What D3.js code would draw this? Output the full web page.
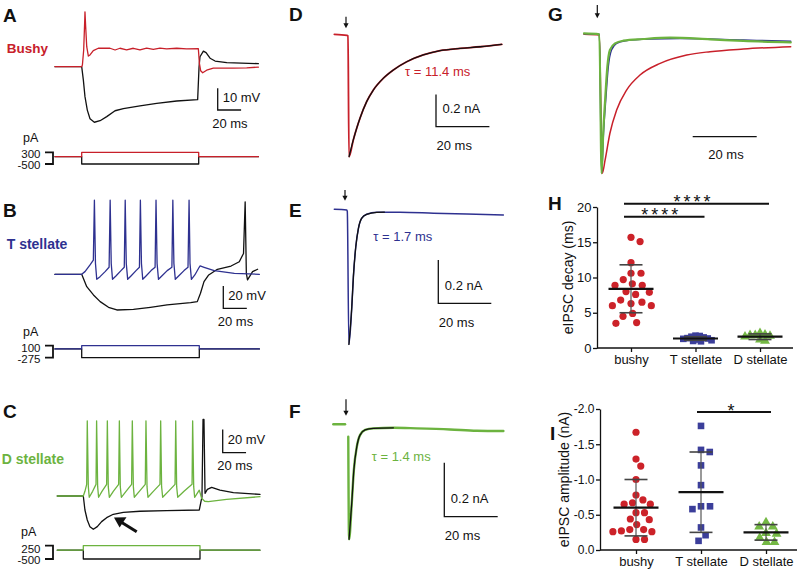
<!DOCTYPE html>
<html><head><meta charset="utf-8">
<script src="https://cdn.jsdelivr.net/npm/d3@7"></script>
<style>
body{margin:0;background:#fff}
svg{display:block;font-family:"Liberation Sans",Arial,Helvetica,sans-serif}
</style>
</head><body>
<svg id="fig" width="800" height="572"></svg>
<script>
// ===================== DATA =====================
// Panel A (Bushy) current clamp: [time ms, Vm change mV]
const aDepol = [[-22.8,0],[0,0],[0.6,0.8],[1.7,7.7],[2.6,21.5],[2.8,25.3],[3.4,18.4],[4.3,9.2],[5.7,4.9],[7.1,5.4],[9.9,7.4],[14.2,8.5],[24.2,8.5],[28.5,7.7],[32.7,8.5],[38.4,7.8],[44.1,8.5],[49.8,7.7],[55.5,8.6],[61.2,8.0],[66.9,8.6],[72.6,8.2],[81.2,8.5],[89.7,8.2],[99.7,8.3],[100.6,1.5],[101.7,-1.9],[103.4,-2.8],[106.8,-1.6],[112.5,-0.7],[129.6,-0.7],[141,-0.5],[151,-0.2]];
const aHyper = [[-22.8,0],[0,0],[1.4,-6.1],[2.8,-13.8],[4.8,-20],[7.1,-24],[10.8,-25.6],[15.7,-24.9],[21.4,-23],[28.5,-20.3],[35.6,-19.3],[49.8,-18.1],[64.1,-16.9],[81.2,-15.8],[99.1,-15.2],[100.3,0],[101.1,4.6],[104,7.2],[106.3,6.5],[109.7,3.9],[114,2.6],[124,1.9],[151,1.4]];
const aStim = [300, -500];   // pA

// Panel B (T stellate)
const bSpiking = [[-22.8,0],[0,0],[2.8,2.4],[7.1,8.4],[9.9,12.8],[10.8,66.5],[11.7,9.8],[12.8,-4.5],[15.6,-2.1],[19.9,2.4],[23.3,6.3],[24.2,66.5],[25.1,9.8],[26.2,-4.5],[29.1,-1.5],[33.4,3.3],[36.2,6.3],[37,66.5],[37.9,9.8],[39.1,-4.5],[41.9,-1.5],[46.2,3.3],[49.1,6.3],[49.9,66.5],[50.8,9.8],[51.9,-4.5],[54.7,-1.5],[59,3.3],[62.4,6.3],[63.2,66.5],[64.1,9.8],[65.3,-4.5],[68.1,-1.5],[72.7,3.3],[76.7,6.3],[77.5,66.5],[78.4,9.8],[79.6,-4.5],[82.4,-1.5],[87,3.3],[90.4,6.3],[91.3,66.5],[92.1,9.8],[93.3,-4.5],[96.2,-0.6],[99.9,6.3],[100.7,7.5],[104.1,6.3],[112.7,3.3],[129.8,0.9],[151.1,0]];
const bHyper = [[-22.8,0],[0,0],[4.3,-11.1],[10,-18.5],[15.7,-24.5],[22.8,-29.6],[29.9,-32],[44,-31.4],[58.4,-29.6],[72.6,-27.5],[92.6,-25.4],[98.3,-24.5],[101,-17],[104,-6.6],[108,-0.6],[115.4,4.5],[127,7.4],[134,11.3],[137.6,18.7],[139,65],[140,0.9],[141,-5],[145.3,2.4],[149.6,4.5]];
const bStim = [100, -275];

// Panel C (D stellate)
const cSpiking = [[-22.3,0],[0,0],[1.4,4],[2.9,10],[3.4,64.5],[4.3,8],[5.1,-1.1],[8,4],[10.9,10],[11.4,64.5],[12.3,8],[13.1,-1.1],[16,4],[20,10],[20.6,64.5],[21.4,8],[22.3,-1.1],[25.7,4],[30.3,10],[30.9,64.5],[31.7,8],[32.6,-1.1],[36.6,4],[41.4,10],[42,64.5],[42.9,8],[43.7,-1.1],[48,4],[53.1,10],[53.7,64.5],[54.6,8],[55.4,-1.1],[60,4],[65.7,10],[66.3,64.5],[67.1,8],[68,-1.1],[72.9,4],[78.6,10],[79.2,64.5],[80,8],[80.9,-1.1],[86.3,4],[93.2,10],[93.7,64.5],[94.6,8],[95.4,-1.1],[99.4,5],[101.4,-2],[104,-4.5],[107.1,-4.9],[122.8,-2.9],[151.4,-0.6]];
const cHyper = [[-22.3,0],[0,0],[1.4,-12],[3.4,-20.6],[5.7,-26.3],[8.6,-28.6],[12,-26.3],[15.7,-22],[20,-18.6],[25.7,-15.7],[34.3,-14],[48.6,-13.1],[71.4,-12.6],[99.4,-12],[101.7,-0.6],[102.6,65.7],[103.4,65.7],[104.3,2.3],[106.3,5.7],[110,7.4],[117.1,5.1],[128.6,2.9],[151.4,1.4]];
const cStim = [250, -500];

// Panel D-F eIPSCs: [time ms from stimulus, current nA]
const dTrace = [[-5,0],[-0.3,-0.007],[0.1,-0.01],[0.49,-0.758],[2.1,-0.654],[3.37,-0.582],[4.6,-0.520],[7.1,-0.417],[9.6,-0.345],[13.3,-0.273],[17.1,-0.221],[22.1,-0.170],[28.3,-0.128],[34.6,-0.101],[42.1,-0.087],[49.6,-0.077],[57.7,-0.062]];
const dFit = [[0.49,-0.758],[2.1,-0.654],[3.37,-0.582],[4.6,-0.520],[7.1,-0.417],[9.6,-0.345],[13.3,-0.273],[17.1,-0.221],[22.1,-0.170],[28.3,-0.128],[34.6,-0.101],[42.1,-0.087],[49.6,-0.077],[57.7,-0.062]];
const eTrace = [[-4.9,0],[-0.2,-0.003],[0.0,-0.01],[0.6,-0.624],[1.7,-0.450],[2.3,-0.311],[3.2,-0.173],[4.2,-0.088],[5.4,-0.042],[7.3,-0.023],[11.1,-0.014],[19.9,-0.014],[32.5,-0.018],[45.1,-0.022],[58.9,-0.026]];
const eFit = [[0.6,-0.624],[1.7,-0.450],[2.3,-0.311],[3.2,-0.173],[4.2,-0.088],[5.4,-0.042],[7.3,-0.023],[11.1,-0.014],[14,-0.013]];
const fBaseline = [[-5.5,0],[-1.1,0]];
const fTrace = [[0.1,-0.046],[0.4,-0.426],[1.4,-0.293],[2.2,-0.169],[3.3,-0.083],[4.5,-0.040],[6.4,-0.021],[9.5,-0.015],[17,-0.013],[25.7,-0.015],[38.2,-0.019],[48.2,-0.024],[58.2,-0.025]];
const fFit = [[0.4,-0.426],[1.4,-0.293],[2.2,-0.169],[3.3,-0.083],[4.5,-0.040],[6.4,-0.021],[9.5,-0.015],[17,-0.013]];
const tauLabels = ["τ = 11.4 ms", "τ = 1.7 ms", "τ = 1.4 ms"];

// Panel G normalized eIPSCs
const gBushy = [[-5,0],[-0.2,-0.005],[0.7,-1],[1.6,-0.904],[3.1,-0.712],[5.2,-0.545],[8.3,-0.401],[12.5,-0.293],[18.8,-0.209],[27.1,-0.149],[34.4,-0.125],[44.8,-0.106],[59.6,-0.089]];
const gTstel = [[-5,0.004],[-0.2,0],[0.5,-1],[1.1,-0.712],[1.8,-0.473],[2.6,-0.233],[3.6,-0.113],[5.2,-0.065],[8,-0.046],[15.6,-0.034],[25,-0.030],[44.8,-0.041],[59.6,-0.050]];
const gDstel = [[-5,0.006],[-0.2,0],[0.5,-1],[1.0,-0.712],[1.6,-0.473],[2.3,-0.233],[3.1,-0.113],[4.7,-0.065],[7.3,-0.046],[13.5,-0.034],[21.9,-0.024],[34.4,-0.036],[44.8,-0.048],[59.6,-0.058]];

// Panels H and I
const categories = ["bushy", "T stellate", "D stellate"];
const decayBushy = [15.7,15.1,12.1,10.6,10.6,9.7,9.1,8.9,8.9,8.0,7.9,7.6,6.8,6.5,6.3,6.0,6.0,4.9,4.5,3.6,3.5];
const decayT = [1.75,1.7,1.6,1.5,1.4,1.35,1.3,1.2,1.1,1.0,0.95];
const decayD = [2.1,1.9,1.8,1.8,1.7,1.6,1.2,1.0];
const decayMean = [8.4, 1.35, 1.6];
const decaySD = [3.4, 0.25, 0.4];
const decayTicks = [0, 5, 10, 15, 20];
const ampBushy = [-1.67,-1.29,-1.19,-1.00,-0.78,-0.71,-0.67,-0.65,-0.65,-0.53,-0.53,-0.44,-0.43,-0.36,-0.29,-0.29,-0.27,-0.26,-0.26,-0.15,-0.15];
const ampT = [-1.76,-1.42,-1.39,-1.20,-0.92,-0.62,-0.62,-0.58,-0.32,-0.21,-0.13];
const ampD = [-0.39,-0.33,-0.33,-0.24,-0.23,-0.17,-0.11,-0.11];
const ampMean = [-0.60, -0.82, -0.25];
const ampSD = [0.40, 0.57, 0.11];
const ampTicks = [0, -0.5, -1.0, -1.5, -2.0];
const decaySig = [["bushy","D stellate","****"],["bushy","T stellate","****"]];
const ampSig = [["T stellate","D stellate","*"]];

// ===================== DRAWING =====================
const RED = "#c8202a", BLUE = "#2e3190", GREEN = "#6cb33f", INK = "#111";
const MRED = "#cc2229", MBLUE = "#3b3e9a", MGREEN = "#74b844";
const svg = d3.select("#fig");

function txt(x, y, s, o = {}) {
  const t = svg.append("text").attr("x", x).attr("y", y).text(s)
    .attr("font-size", o.size || 13).attr("fill", o.fill || INK)
    .attr("font-weight", o.weight || "normal").attr("text-anchor", o.anchor || "start");
  if (o.ls) t.attr("letter-spacing", o.ls);
  return t;
}
function trace(data, x, y, color, w, curve) {
  return svg.append("path").datum(data).attr("fill", "none").attr("stroke", color)
    .attr("stroke-width", w).attr("stroke-linejoin", "round").attr("stroke-linecap", "round")
    .attr("d", d3.line().x(d => x(d[0])).y(d => y(d[1])).curve(curve || d3.curveMonotoneX));
}
function seg(x1, y1, x2, y2, color, w) {
  svg.append("line").attr("x1", x1).attr("y1", y1).attr("x2", x2).attr("y2", y2)
    .attr("stroke", color || INK).attr("stroke-width", w || 1.3);
}
function stimArrow(x, y1, y2) {
  seg(x, y1, x, y2 - 4, INK, 1.2);
  svg.append("path").attr("d", `M${x-2.6},${y2-5}L${x+2.6},${y2-5}L${x},${y2}Z`).attr("fill", INK);
}
function scaleBar(x0, y0, hLen, vLen) {
  svg.append("path").attr("fill", "none").attr("stroke", INK).attr("stroke-width", 1.3)
    .attr("d", vLen > 0 ? `M${x0},${y0 - vLen}V${y0}H${x0 + hLen}` : `M${x0},${y0}H${x0 + hLen}`);
}
function panelLetter(x, y, s) { txt(x, y, s, { size: 19, weight: "bold" }); }

// ---- current-clamp panels ----
function ccPanel(cfg) {
  const x = d3.scaleLinear().domain([0, 100]).range(cfg.xr);
  const y = d3.scaleLinear().domain([0, -cfg.vBar]).range([cfg.base, cfg.base + cfg.vPx]);
  trace(cfg.hyper, x, y, INK, 1.3, d3.curveLinear);
  trace(cfg.spk, x, y, cfg.color, 1.3, d3.curveLinear);
  const hLen = x(20) - x(0), vLen = y(0) - y(cfg.vBar);
  scaleBar(cfg.sb[0], cfg.sb[1], hLen, vLen);
  txt(cfg.sb[0] + 5, cfg.sb[1] - 8.5, cfg.vBar + " mV", { size: 13 });
  txt(cfg.sb[0] - 5.5, cfg.sb[1] + 17.5, "20 ms", { size: 13 });
  const t0 = cfg.spk[0][0], t1 = cfg.spk[cfg.spk.length - 1][0];
  const ys = d3.scaleLinear().domain([cfg.stim[1], cfg.stim[0]]).range(cfg.stimR);
  const step = a => [[t0, 0], [0, 0], [0, a], [100, a], [100, 0], [t1, 0]];
  trace(step(cfg.stim[1]), x, ys, INK, 1.3, d3.curveLinear);
  trace(step(cfg.stim[0]), x, ys, cfg.color, 1.3, d3.curveLinear);
  svg.append("path").attr("fill", "none").attr("stroke", INK).attr("stroke-width", 1.8)
    .attr("d", `M45,${ys(cfg.stim[0])}H53V${ys(cfg.stim[1])}H45`);
  txt(cfg.pA[0], cfg.pA[1], "pA", { size: 12.5 });
  const mid = (ys(cfg.stim[0]) + ys(cfg.stim[1])) / 2;
  txt(40.5, mid + 0.2, String(cfg.stim[0]), { size: 11.5, anchor: "end" });
  txt(40.5, mid + 11.3, String(cfg.stim[1]), { size: 11.5, anchor: "end" });
  txt(cfg.name[1], cfg.name[2], cfg.name[0], { size: cfg.name[3], weight: "bold", fill: cfg.color });
  return { x, y };
}

ccPanel({ xr: [81.7, 198.7], base: 66.7, vBar: 10, vPx: 21.7, hyper: aHyper, spk: aDepol, color: RED,
  sb: [217.7, 110], stim: aStim, stimR: [164, 152.3], pA: [23, 142], name: ["Bushy", 6.7, 52.8, 13.5] });
ccPanel({ xr: [81.7, 199.3], base: 274.3, vBar: 20, vPx: 22.3, hyper: bHyper, spk: bSpiking, color: BLUE,
  sb: [223.3, 308.3], stim: bStim, stimR: [357.7, 345.7], pA: [23, 336], name: ["T stellate", 6.7, 249.3, 14] });
ccPanel({ xr: [83.3, 200], base: 496, vBar: 20, vPx: 23.3, hyper: cHyper, spk: cSpiking, color: GREEN,
  sb: [222.7, 452.7], stim: cStim, stimR: [559, 545.7], pA: [21, 536], name: ["D stellate", 1.7, 464.3, 14] });

// arrow in C
seg(136.7, 531.7, 121, 522, INK, 3);
svg.append("path").attr("d", "M114,517.5L126.5,517.3L119.6,527.4Z").attr("fill", INK);

panelLetter(3, 21.7, "A"); panelLetter(3, 216.7, "B"); panelLetter(3, 418.3, "C");

// ---- eIPSC panels D, E, F ----
function ipscPanel(cfg) {
  const x = d3.scaleLinear().domain([0, 20]).range([cfg.x0, cfg.x0 + 20 * cfg.pxms]);
  const y = d3.scaleLinear().domain([0, -0.2]).range([cfg.y0, cfg.y0 + cfg.px02]);
  if (cfg.pre) trace(cfg.pre, x, y, cfg.color, cfg.w, d3.curveLinear);
  trace(cfg.raw, x, y, cfg.color, cfg.w);
  trace(cfg.fit, x, y, INK, 1.3);
  stimArrow(cfg.arrow[0], cfg.arrow[1], cfg.arrow[2]);
  const hLen = x(20) - x(0), vLen = y(-0.2) - y(0);
  scaleBar(cfg.sb[0], cfg.sb[1], hLen, vLen);
  txt(cfg.sb[0] + 6.5, cfg.sb[1] - 13.5, "0.2 nA", { size: 13 });
  txt(cfg.sb[0] + 0.5, cfg.sb[1] + 23.3, "20 ms", { size: 13 });
  txt(cfg.tau[1], cfg.tau[2], cfg.tau[0], { size: 13, fill: cfg.color });
}
ipscPanel({ x0: 347.7, pxms: 2.67, y0: 34.3, px02: 32.3, raw: dTrace, fit: dFit, color: RED, w: 1.8,
  arrow: [346, 16.7, 28.3], sb: [436, 126.7], tau: [tauLabels[0], 405, 76] });
ipscPanel({ x0: 347.3, pxms: 2.65, y0: 209.3, px02: 43.3, raw: eTrace, fit: eFit, color: BLUE, w: 1.5,
  arrow: [345, 190, 200.7], sb: [438.3, 303.3], tau: [tauLabels[1], 373.3, 240.7] });
ipscPanel({ x0: 348, pxms: 2.67, y0: 424.3, px02: 54, pre: fBaseline, raw: fTrace, fit: fFit, color: GREEN, w: 2.4,
  arrow: [346, 399.3, 415.7], sb: [444.3, 516.7], tau: [tauLabels[2], 371.7, 460.7] });

panelLetter(289, 21, "D"); panelLetter(289, 217, "E"); panelLetter(289, 418, "F");

// ---- G overlay ----
{
  const x = d3.scaleLinear().domain([0, 20]).range([600, 664]);
  const y = d3.scaleLinear().domain([0, -1]).range([34.3, 173.3]);
  trace(gBushy, x, y, RED, 1.5);
  trace(gTstel, x, y, BLUE, 1.4);
  trace(gDstel, x, y, GREEN, 2.2);
  stimArrow(597.3, 5, 18.3);
  scaleBar(692.7, 136.7, x(20) - x(0), 0);
  txt(708.3, 159.3, "20 ms", { size: 13 });
}
panelLetter(548, 21, "G"); panelLetter(548, 210, "H"); panelLetter(550, 440, "I");

// ---- scatter panels ----
function swarm(vals, yS, D) {
  const pts = vals.map(v => ({ v, y: yS(v) })).sort((a, b) => a.y - b.y);
  const placed = [];
  for (const p of pts) {
    const cands = [0];
    for (const q of placed) {
      const dy = Math.abs(q.y - p.y);
      if (dy < D) { const dx = Math.sqrt(D * D - dy * dy); cands.push(q.x + dx + 0.01, q.x - dx - 0.01); }
    }
    cands.sort((a, b) => Math.abs(a) - Math.abs(b));
    for (const c of cands) {
      if (placed.every(q => (q.x - c) ** 2 + (q.y - p.y) ** 2 >= D * D - 0.02)) { p.x = c; break; }
    }
    placed.push(p);
  }
  return placed;
}
function drawMarkers(pts, cx, kind) {
  const g = svg.append("g");
  pts.forEach(p => {
    const X = cx + p.x, Y = p.y;
    if (kind === 0) g.append("circle").attr("cx", X).attr("cy", Y).attr("r", 3.6).attr("fill", MRED);
    else if (kind === 1) g.append("rect").attr("x", X - 3.3).attr("y", Y - 3.3).attr("width", 6.6).attr("height", 6.6).attr("fill", MBLUE);
    else g.append("path").attr("transform", `translate(${X},${Y})`).attr("d", d3.symbol(d3.symbolTriangle, 42)()).attr("fill", MGREEN);
  });
}
function scatterPanel(cfg) {
  const y = d3.scaleLinear().domain(cfg.dom).range(cfg.yr);
  const x = d3.scalePoint().domain(categories).range(cfg.xr);
  const gy = svg.append("g").attr("transform", `translate(${cfg.ax},0)`)
    .call(d3.axisLeft(y).tickValues(cfg.ticks).tickSize(4).tickSizeOuter(0).tickPadding(1.5).tickFormat(cfg.fmt));
  const gx = svg.append("g").attr("transform", `translate(0,${cfg.yr[0]})`)
    .call(d3.axisBottom(x).tickSize(4).tickSizeOuter(0).tickPadding(3));
  gx.select(".domain").remove();
  seg(cfg.ax, cfg.yr[0], cfg.axEnd, cfg.yr[0], INK, 1.3);
  [gy, gx].forEach(g => {
    g.selectAll("text").attr("font-size", 13).attr("fill", INK).attr("font-family", '"Liberation Sans",Arial,sans-serif');
    g.selectAll("line,path").attr("stroke", INK).attr("stroke-width", 1.3);
  });
  gy.selectAll("text").attr("font-size", cfg.tickSize);
  svg.append("text").attr("transform", `translate(${cfg.titleX},${(cfg.yr[0] + cfg.yr[1]) / 2}) rotate(-90)`)
    .attr("text-anchor", "middle").attr("dy", "0.35em").attr("font-size", 14).attr("fill", INK).text(cfg.title);
  cfg.groups.forEach((vals, i) => drawMarkers(swarm(vals, y, cfg.spread[i]), x(categories[i]), i));
  cfg.means.forEach((m, i) => {
    const cx = x(categories[i]), lo = y(m - cfg.sds[i] * cfg.sgn), hi = y(m + cfg.sds[i] * cfg.sgn);
    seg(cx, lo, cx, hi, "#555", 1.2);
    seg(cx - 11.5, lo, cx + 11.5, lo, "#444", 1.6);
    seg(cx - 11.5, hi, cx + 11.5, hi, "#444", 1.6);
    seg(cx - 22.5, y(m), cx + 22.5, y(m), INK, 2.2);
  });
  cfg.sig.forEach((s, k) => {
    const x1 = x(s[0]) + cfg.sigPad[0], x2 = x(s[1]) + cfg.sigPad[1], yy = cfg.sigY[k];
    seg(x1, yy, x2, yy, INK, 2);
    txt((x1 + x2) / 2 - 3, yy + 4.6, s[2], { size: 18, anchor: "middle", ls: s[2].length > 1 ? 3 : 0 });
  });
}
scatterPanel({ dom: [0, 20], yr: [348, 207], xr: [631, 760], ax: 597, axEnd: 793, ticks: decayTicks, fmt: d => String(d),
  tickSize: 13, titleX: 568, title: "eIPSC decay (ms)", groups: [decayBushy, decayT, decayD], spread: [10, 4.2, 5.2],
  means: decayMean, sds: decaySD, sgn: 1, sig: decaySig, sigY: [203.7, 216.7], sigPad: [-7, 9] });
scatterPanel({ dom: [0, -2], yr: [550, 409], xr: [636, 766], ax: 600, axEnd: 797, ticks: ampTicks, fmt: d => d.toFixed(1),
  tickSize: 12, titleX: 564, title: "eIPSC amplitude (nA)", groups: [ampBushy, ampT, ampD], spread: [8.5, 9, 8],
  means: ampMean, sds: ampSD, sgn: -1, sig: ampSig, sigY: [412], sigPad: [-4, 5] });
</script>
</body></html>
